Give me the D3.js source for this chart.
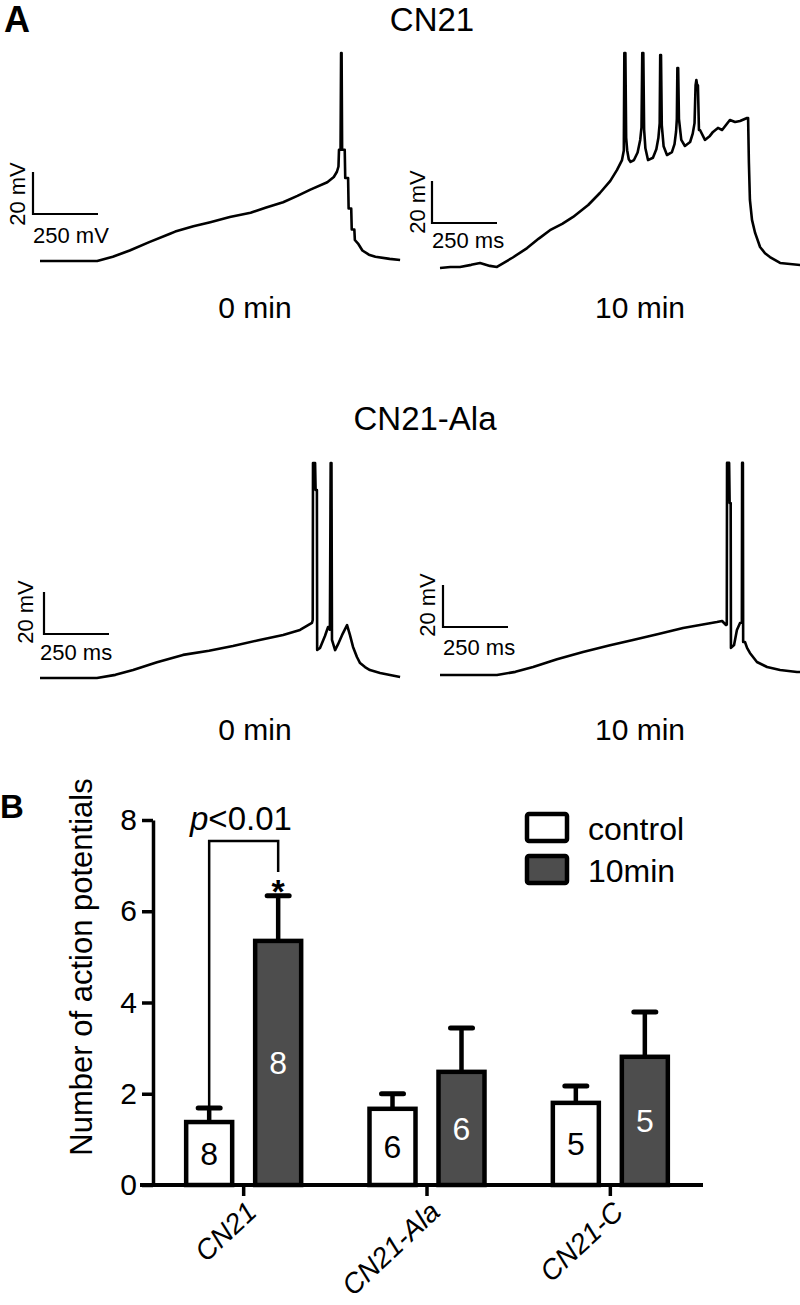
<!DOCTYPE html>
<html><head><meta charset="utf-8">
<script src="https://cdn.jsdelivr.net/npm/d3@7"></script>
<style>
body{margin:0;background:#fff}
svg{display:block}
text{font-family:"Liberation Sans",Arial,Helvetica,sans-serif;fill:#000}
</style>
</head><body>
<svg id="chart" width="800" height="1305"></svg>
<script>
// ---------- DATA ----------
// Traces: [time (ms), membrane potential (mV)]
const traceCN21_0min = [[0,-70],[220,-70],[280,-68],[345,-65],[420,-61],[500,-57],[520,-56],[590,-53.5],[655,-51.5],[730,-49],[810,-47],[870,-44.5],[935,-42],[990,-39],[1040,-36],[1105,-32.5],[1130,-30],[1142,-27.5],[1148,-25],[1150,-17],[1156,-17],[1158,29],[1160,29],[1162,-17],[1172,-17],[1174,-30.5],[1185,-30.5],[1187,-45],[1197,-45],[1199,-55],[1209,-55],[1211,-60],[1225,-62],[1240,-65],[1265,-67],[1290,-68],[1345,-69],[1385,-69.5]];
const traceCN21_10min = [[0,-70],[40,-69.5],[77,-69.5],[120,-68.5],[154,-67.6],[192,-69],[219,-69.5],[280,-65],[335,-60.5],[380,-56],[423,-52],[470,-49],[512,-45.7],[570,-40],[615,-34.3],[655,-28.5],[681,-23.3],[700,-18.6],[707,-14],[709,32.4],[713,32.4],[716,-8],[720,-14],[726,-18.2],[733,-19.5],[746,-18.6],[760,-15],[770,-9],[775,-3],[778,32.4],[782,32.4],[785,-4],[790,-13],[800,-18.6],[819,-17.5],[832,-13.5],[840,-8],[845,-1],[847,31.4],[850,31.4],[853,-2],[860,-12],[873,-16.2],[892,-14.8],[902,-11],[908,-5],[911,1],[913,25.2],[916,25.2],[919,1],[928,-9],[942,-11.9],[962,-10],[972,-6],[979,-1],[983,17],[986,19.5],[989,17],[992,17],[996,-4.3],[1000,-4.3],[1019,-9],[1038,-7.1],[1050,-5.2],[1069,-3.3],[1085,-4.3],[1100,-1.9],[1115,0.5],[1135,-0.5],[1154,0],[1181,1.4],[1185,1.4],[1188,-19.5],[1192,-37.6],[1200,-47.1],[1212,-53.3],[1231,-60],[1250,-63],[1269,-64.8],[1308,-67.6],[1385,-68.6]];
const traceAla_0min = [[0,-70],[219,-70],[290,-68.5],[358,-66.2],[450,-62.5],[550,-59],[650,-57],[742,-54.8],[840,-52],[935,-49.5],[1000,-47.1],[1046,-43.8],[1049,-42.4],[1050,32.4],[1058,32.4],[1060,19.5],[1065,19.5],[1066,-56.7],[1077,-55.7],[1096,-50],[1108,-45.7],[1115,-47],[1118,32.4],[1121,32.4],[1123,-51.9],[1135,-56.7],[1146,-54],[1162,-49.5],[1181,-44.8],[1192,-49.5],[1204,-55.2],[1219,-60],[1231,-62.9],[1250,-64.8],[1269,-66.2],[1308,-67.6],[1385,-69.5]];
const traceAla_10min = [[0,-70],[219,-70],[290,-68.5],[358,-66.2],[450,-62.5],[550,-59],[650,-56],[742,-53.3],[840,-50.5],[935,-47.6],[1065,-44.8],[1085,-44.3],[1100,-46.2],[1103,-46],[1104,31],[1112,31],[1114,11.9],[1118,11.9],[1119,-57.1],[1131,-55.7],[1142,-48.6],[1154,-45.2],[1161,-45],[1162,31],[1165,31],[1166,-54.3],[1173,-54.3],[1181,-57.1],[1192,-59.5],[1219,-63.8],[1258,-66.2],[1308,-67.6],[1373,-68.6],[1385,-68.6]];
const scaleBarTime = 250;   // ms
const scaleBarVolt = 20;    // mV

// Bar chart
const categories = ["CN21","CN21-Ala","CN21-C"];
const series = ["control","10min"];
const controlMean = [1.38,1.67,1.80];
const controlSEM  = [0.31,0.33,0.37];
const tenMinMean  = [5.35,2.48,2.81];
const tenMinSEM   = [0.99,0.96,0.98];
const nCells      = [8,6,5];
const yTicks      = [0,2,4,6,8];

// ---------- LAYOUT ----------
const svg = d3.select("#chart");
const FONT = "Liberation Sans, Arial, sans-serif";

function txt(x,y,s,size,opts={}){
  const t = svg.append("text").attr("x",x).attr("y",y).attr("font-size",size)
    .attr("text-anchor",opts.anchor||"start")
    .attr("font-weight",opts.bold?"bold":"normal")
    .text(s);
  if(opts.fill) t.style("fill",opts.fill);
  if(opts.rotate) t.attr("transform",`rotate(${opts.rotate},${x},${y})`);
  return t;
}

// Panel A
txt(4,32,"A",36,{bold:true});
txt(432,31,"CN21",33,{anchor:"middle"});
txt(425,430,"CN21-Ala",33,{anchor:"middle"});
txt(255,318,"0 min",30,{anchor:"middle"});
txt(640,318,"10 min",30,{anchor:"middle"});
txt(255,740,"0 min",30,{anchor:"middle"});
txt(640,740,"10 min",30,{anchor:"middle"});

const panels = [
  {data:traceCN21_0min,  x0:40,  y0:261, sb:[33,214],  hText:"250 mV", hx:33,  hy:243, vx:25,  vy:194},
  {data:traceCN21_10min, x0:440, y0:268, sb:[432,223], hText:"250 ms", hx:432, hy:248, vx:425, vy:202},
  {data:traceAla_0min,   x0:40,  y0:678, sb:[44,634],  hText:"250 ms", hx:40,  hy:660, vx:33,  vy:612},
  {data:traceAla_10min,  x0:440, y0:675, sb:[443,627], hText:"250 ms", hx:443, hy:655, vx:435, vy:605}
];
const pxPerMs = 0.26, pxPerMv = 2.1;
panels.forEach(p=>{
  const xs = d3.scaleLinear().domain([0,1385]).range([p.x0, p.x0+1385*pxPerMs]);
  const ys = d3.scaleLinear().domain([-70,30]).range([p.y0, p.y0-100*pxPerMv]);
  const line = d3.line().x(d=>xs(d[0])).y(d=>ys(d[1]));
  svg.append("path").datum(p.data).attr("d",line)
    .attr("fill","none").attr("stroke","#000").attr("stroke-width",2.6)
    .attr("stroke-linejoin","round");
  const hLen = xs(scaleBarTime)-xs(0);
  const vLen = ys(-70)-ys(-70+scaleBarVolt);
  const [cx,cy] = p.sb;
  svg.append("path").attr("d",`M${cx},${cy-vLen}V${cy}H${cx+hLen}`)
    .attr("fill","none").attr("stroke","#000").attr("stroke-width",2.2);
  txt(p.hx,p.hy,p.hText,22);
  txt(p.vx,p.vy,scaleBarVolt+" mV",22,{anchor:"middle",rotate:-90});
});

// Panel B
txt(0,818,"B",33,{bold:true});
const y = d3.scaleLinear().domain([0,8]).range([1185,820]);
const xC = d3.scaleBand().domain(categories).range([152,702]);
const xS = d3.scaleBand().domain(series).range([-57.5,57.5]).paddingInner(1/3);
const center = c => xC(c)+xC.bandwidth()/2;

// y axis
const yAx = svg.append("g").attr("transform","translate(153,0)")
  .call(d3.axisLeft(y).tickValues(yTicks).tickSize(11).tickSizeOuter(0).tickPadding(5));
yAx.selectAll("path,line").attr("stroke","#000").attr("stroke-width",3.5);
yAx.selectAll("text").attr("font-size",30).attr("font-family",FONT).style("fill","#000");

// x axis
const xAx = svg.append("g").attr("transform","translate(0,1185)")
  .call(d3.axisBottom(xC).tickSize(11).tickSizeOuter(0));
xAx.select(".domain").remove();
xAx.selectAll("line").attr("stroke","#000").attr("stroke-width",3.5);
xAx.selectAll("text").attr("font-size",28).attr("font-family",FONT).style("fill","#000")
  .attr("font-style","italic")
  .attr("text-anchor","end").attr("x",0).attr("y",0).attr("dy","0.35em")
  .attr("transform","translate(8,22) rotate(-43)");
svg.append("line").attr("x1",140).attr("x2",703).attr("y1",1185).attr("y2",1185)
  .attr("stroke","#000").attr("stroke-width",4);

// bars
const rows = [];
categories.forEach((c,i)=>{
  rows.push({c, s:"control", m:controlMean[i], e:controlSEM[i], n:nCells[i]});
  rows.push({c, s:"10min",  m:tenMinMean[i],  e:tenMinSEM[i],  n:nCells[i]});
});
const fillOf = s => s==="control" ? "#ffffff" : "#4d4d4d";
const bx = d => center(d.c)+xS(d.s);
const bmid = d => bx(d)+xS.bandwidth()/2;

svg.selectAll(".err").data(rows).enter().append("path")
  .attr("d",d=>`M${bmid(d)},${y(d.m)}V${y(d.m+d.e)}`)
  .attr("stroke","#000").attr("stroke-width",4.5);
svg.selectAll(".cap").data(rows).enter().append("line")
  .attr("x1",d=>bmid(d)-11).attr("x2",d=>bmid(d)+11)
  .attr("y1",d=>y(d.m+d.e)).attr("y2",d=>y(d.m+d.e))
  .attr("stroke","#000").attr("stroke-width",5).attr("stroke-linecap","round");
svg.selectAll(".bar").data(rows).enter().append("rect")
  .attr("x",bx).attr("width",xS.bandwidth())
  .attr("y",d=>y(d.m)).attr("height",d=>y(0)-y(d.m))
  .attr("fill",d=>fillOf(d.s)).attr("stroke","#000").attr("stroke-width",4.5);
svg.selectAll(".nlab").data(rows).enter().append("text")
  .attr("x",bmid).attr("y",d=>y(d.m/2)).attr("dy","0.36em")
  .attr("text-anchor","middle").attr("font-size",32)
  .style("fill",d=>d.s==="control"?"#000":"#fff").text(d=>d.n);

// significance bracket
const r0 = rows[0], r1 = rows[1];
svg.append("path")
  .attr("d",`M${bmid(r0)},${y(r0.m+r0.e)}V${y(7.54)}H${bmid(r1)}V${y(6.86)}`)
  .attr("fill","none").attr("stroke","#000").attr("stroke-width",2.5);
txt(bmid(r1),903,"*",34,{anchor:"middle",bold:true});
const pt = svg.append("text").attr("x",190).attr("y",830).attr("font-size",33);
pt.append("tspan").attr("font-style","italic").text("p");
pt.append("tspan").text("<0.01");

// legend
series.forEach((s,i)=>{
  svg.append("rect").attr("x",527).attr("y",814+i*42).attr("width",40).attr("height",27)
    .attr("rx",2).attr("fill",fillOf(s)).attr("stroke","#000").attr("stroke-width",4.5);
  txt(588,840+i*42,s,32);
});

// y title
txt(92,967,"Number of action potentials",31,{anchor:"middle",rotate:-90});
</script>
</body></html>
